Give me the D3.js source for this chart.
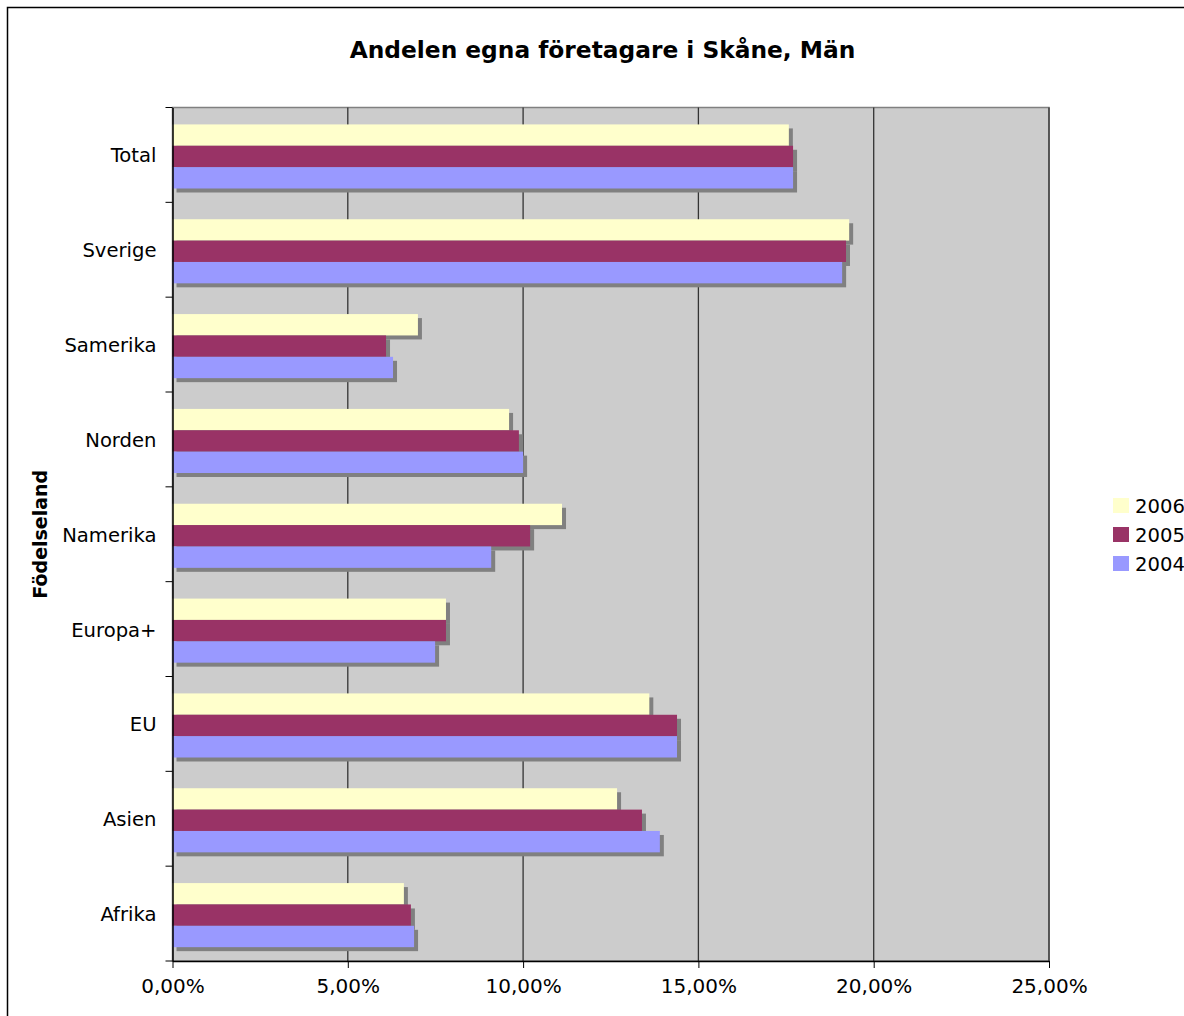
<!DOCTYPE html>
<html>
<head>
<meta charset="utf-8">
<script src="https://cdn.jsdelivr.net/npm/d3@7"></script>
<style>
  body { margin: 0; background: #fff; }
  text { font-family: "DejaVu Sans", Verdana, sans-serif; }
</style>
</head>
<body>
<div id="chart"></div>
<script>
// categories top to bottom
var categories = ["Total", "Sverige", "Samerika", "Norden", "Namerika", "Europa+", "EU", "Asien", "Afrika"];
var years = ["2006", "2005", "2004"];
var colors = ["#ffffcc", "#993366", "#9999ff"];
// values in percent, per year
var v2006 = [17.58, 19.30, 7.00, 9.60, 11.11, 7.80, 13.60, 12.68, 6.60];
var v2005 = [17.70, 19.21, 6.09, 9.88, 10.20, 7.80, 14.39, 13.39, 6.80];
var v2004 = [17.70, 19.10, 6.29, 10.00, 9.09, 7.49, 14.39, 13.90, 6.89];
var xTicks = [0, 5, 10, 15, 20, 25];

var values = [v2006, v2005, v2004];

var width = 1184, height = 1016;
var plotLeft = 172.5, plotRight = 1049, plotTop = 107.5, plotBottom = 961;

var svg = d3.select("#chart")
    .append("svg")
    .attr("width", width)
    .attr("height", height);

// outer chart border
svg.append("rect")
    .attr("x", 7.5).attr("y", 7.5)
    .attr("width", width).attr("height", height)
    .attr("fill", "#fff")
    .attr("stroke", "#000")
    .attr("stroke-width", 1.5);

var x = d3.scaleLinear().domain([0, 25]).range([plotLeft, plotRight]);
var y0 = d3.scaleBand().domain(categories).range([plotTop, plotBottom]);
var y1 = d3.scaleBand().domain(years).range([0, y0.bandwidth()])
    .paddingOuter(0.72).align(0.55);

// plot area
svg.append("rect")
    .attr("x", plotLeft).attr("y", plotTop)
    .attr("width", plotRight - plotLeft).attr("height", plotBottom - plotTop)
    .attr("fill", "#cccccc")
    .attr("stroke", "#808080")
    .attr("stroke-width", 1.5);

// gridlines
svg.selectAll(".grid")
    .data(xTicks.slice(1))
    .enter().append("line")
    .attr("class", "grid")
    .attr("x1", function (d) { return x(d); })
    .attr("x2", function (d) { return x(d); })
    .attr("y1", plotTop).attr("y2", plotBottom)
    .attr("stroke", "#333")
    .attr("stroke-width", 1.3);

// flatten data
var rows = [];
categories.forEach(function (c, i) {
    years.forEach(function (yr, j) {
        rows.push({ cat: c, year: yr, value: values[j][i], color: colors[j] });
    });
});

// shadows first
svg.selectAll(".shadow")
    .data(rows)
    .enter().append("rect")
    .attr("class", "shadow")
    .attr("x", x(0) + 4)
    .attr("y", function (d) { return y0(d.cat) + y1(d.year) + 4; })
    .attr("width", function (d) { return x(d.value) - x(0); })
    .attr("height", y1.bandwidth())
    .attr("fill", "#808080");

svg.selectAll(".bar")
    .data(rows)
    .enter().append("rect")
    .attr("class", "bar")
    .attr("x", x(0))
    .attr("y", function (d) { return y0(d.cat) + y1(d.year); })
    .attr("width", function (d) { return x(d.value) - x(0); })
    .attr("height", y1.bandwidth())
    .attr("fill", function (d) { return d.color; });

// x axis
var xAxis = svg.append("g")
    .attr("transform", "translate(0," + plotBottom + ")")
    .call(d3.axisBottom(x).tickValues(xTicks).tickSize(7).tickSizeOuter(0)
        .tickFormat(function (d) { return d3.format(".2f")(d).replace(".", ",") + "%"; }));
xAxis.select(".domain").attr("stroke", "#000").attr("stroke-width", 1.5);
xAxis.selectAll(".tick line").attr("stroke", "#000");
xAxis.selectAll(".tick text")
    .attr("y", 18)
    .attr("dy", "0.71em")
    .style("font-size", "20px")
    .attr("fill", "#000");

// y axis
var yAxis = svg.append("g")
    .attr("transform", "translate(" + plotLeft + ",0)")
    .call(d3.axisLeft(y0).tickSize(0).tickSizeOuter(0));
yAxis.select(".domain").attr("stroke", "#000").attr("stroke-width", 1.5);
yAxis.selectAll(".tick text")
    .attr("x", -16)
    .attr("dy", "0.38em")
    .style("font-size", "19.6px")
    .attr("fill", "#000");

// tick marks at category boundaries
var bounds = categories.map(function (c) { return y0(c); }).concat([plotBottom]);
svg.selectAll(".ytick")
    .data(bounds)
    .enter().append("line")
    .attr("class", "ytick")
    .attr("x1", plotLeft - 7).attr("x2", plotLeft)
    .attr("y1", function (d) { return d; })
    .attr("y2", function (d) { return d; })
    .attr("stroke", "#000");

// title
svg.append("text")
    .attr("x", 602.5).attr("y", 58)
    .attr("text-anchor", "middle")
    .style("font-size", "23.3px")
    .style("font-weight", "bold")
    .text("Andelen egna företagare i Skåne, Män");

// y axis title
svg.append("text")
    .attr("transform", "translate(47," + ((plotTop + plotBottom) / 2) + ") rotate(-90)")
    .attr("text-anchor", "middle")
    .style("font-size", "19px")
    .style("font-weight", "bold")
    .text("Födelseland");

// legend
var legend = svg.selectAll(".legend")
    .data(years)
    .enter().append("g")
    .attr("class", "legend")
    .attr("transform", function (d, i) { return "translate(1113," + (498 + i * 29) + ")"; });
legend.append("rect")
    .attr("width", 16).attr("height", 15)
    .attr("fill", function (d, i) { return colors[i]; });
legend.append("text")
    .attr("x", 22).attr("y", 15)
    .style("font-size", "19.6px")
    .text(function (d) { return d; });
</script>
</body>
</html>
